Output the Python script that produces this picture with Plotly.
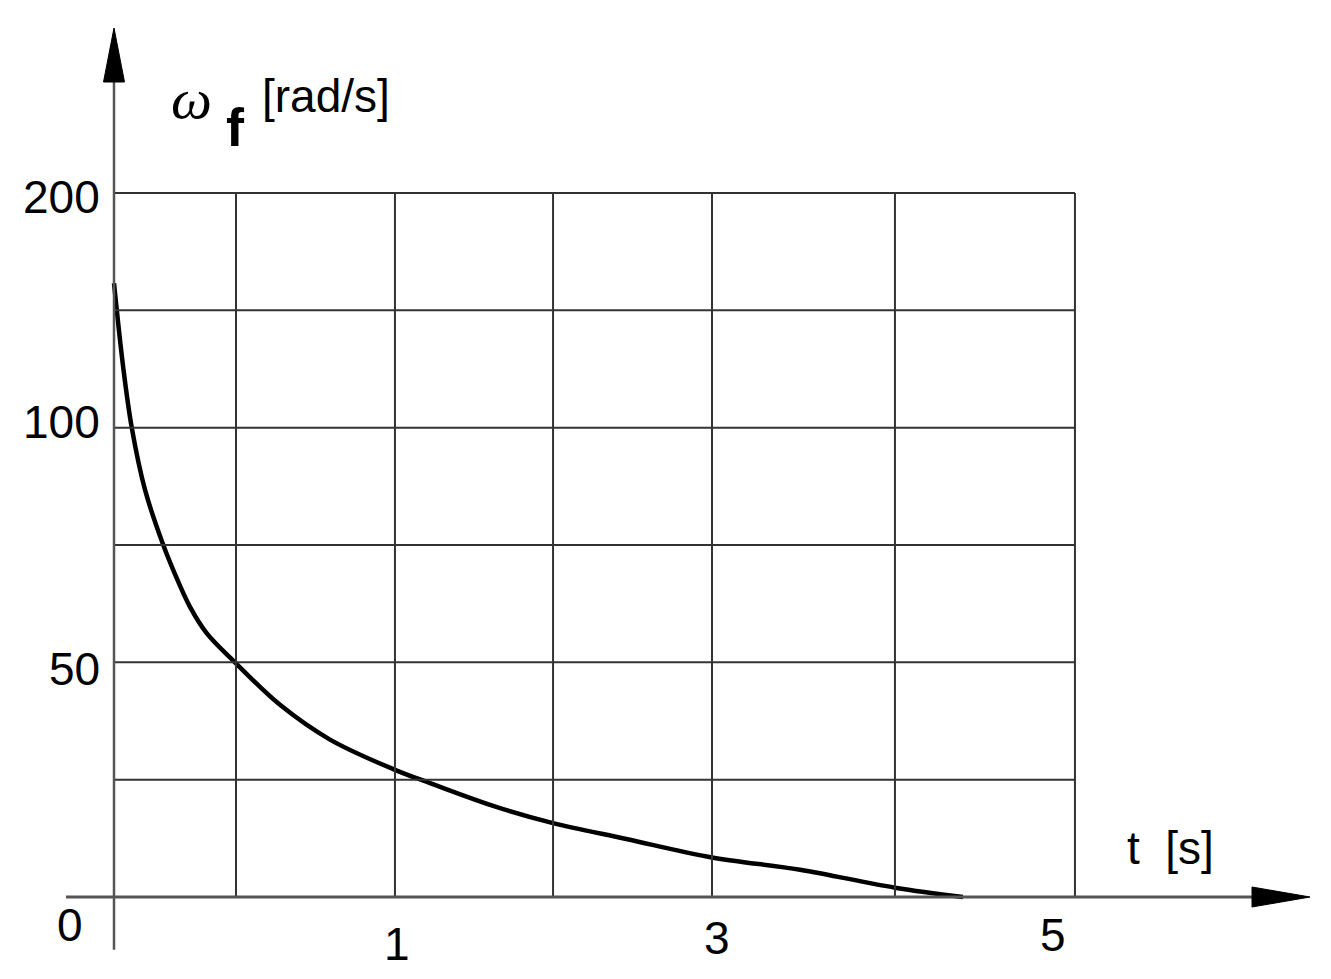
import math
import plotly.graph_objects as go

# ---- data ----
# x positions in grid units (1 unit ~ one interior grid column)
t_curve = [0.0, 0.058, 0.111, 0.194, 0.308, 0.381, 0.475, 0.579,
           0.756, 1.0375, 1.35, 1.756, 1.975, 2.394, 2.744, 3.194, 3.7375, 4.2875,
           4.881, 5.306]
w_curve = [153.2, 119.3, 100.0, 83.2, 70.7, 64.9, 58.9, 54.5,
           50.0, 44.1, 39.8, 36.4, 35.0, 32.6, 31.1, 29.7, 28.1, 27.1,
           25.7, 25.0]

x_grid = [0.0, 0.7625, 1.756, 2.744, 3.7375, 4.881, 6.006]
y_grid = [200, 141.42, 100, 70.71, 50, 35.36, 25]

y_tick_vals = [200, 100, 50]
y_tick_text = ["200", "100", "50"]
x_tick_pos = [1.756, 3.7375, 6.006]
x_tick_text = ["1", "3", "5"]

# axis extents (grid units / data values)
x_axis_left, x_axis_tip = -0.30, 7.475
y_axis_bottom, y_axis_tip = 21.4, 325.6
base_y = 25

FONT = "Liberation Sans, Arial, sans-serif"
GRID = "#333333"
AXIS = "#555555"

fig = go.Figure()
fig.add_trace(go.Scatter(x=t_curve, y=w_curve, mode="lines",
                         line=dict(color="black", width=4.5, shape="spline", smoothing=1.0),
                         hoverinfo="skip", showlegend=False))

shapes = []
for xv in x_grid[1:]:
    shapes.append(dict(type="line", xref="x", yref="y", x0=xv, x1=xv,
                       y0=base_y, y1=max(y_grid), line=dict(color=GRID, width=2)))
for yv in y_grid[:-1]:
    shapes.append(dict(type="line", xref="x", yref="y", x0=0, x1=x_grid[-1],
                       y0=yv, y1=yv, line=dict(color=GRID, width=2)))
# axes
shapes.append(dict(type="line", xref="x", yref="y", x0=0, x1=0, y0=y_axis_bottom,
                   y1=y_axis_tip * 0.9, line=dict(color=AXIS, width=2.5)))
shapes.append(dict(type="line", xref="x", yref="y", x0=x_axis_left, x1=x_axis_tip - 0.2,
                   y0=base_y, y1=base_y, line=dict(color=AXIS, width=3)))
# arrow heads
shapes.append(dict(type="path", xref="x", yref="y", xsizemode="pixel", ysizemode="pixel",
                   xanchor=0, yanchor=y_axis_tip,
                   path="M0,0 L-10.5,-54 L10.5,-54 Z",
                   fillcolor="black", line=dict(color="black", width=1)))
shapes.append(dict(type="path", xref="x", yref="y", xsizemode="pixel", ysizemode="pixel",
                   xanchor=x_axis_tip, yanchor=base_y,
                   path="M0,0 L-58,10 L-58,-10 Z",
                   fillcolor="black", line=dict(color="black", width=1)))

ann = []
ytick_shift = [-4, 6, -7]
for v, txt, sh in zip(y_tick_vals, y_tick_text, ytick_shift):
    ann.append(dict(x=0, y=math.log10(v), xref="x", yref="y", text=txt, showarrow=False,
                    xanchor="right", yanchor="middle", xshift=-12, yshift=sh,
                    font=dict(family=FONT, size=46, color="black")))
xtick_shift = [(2, -47), (5, -41), (-22, -38)]
for p, txt, (dx, dy) in zip(x_tick_pos, x_tick_text, xtick_shift):
    ann.append(dict(x=p, y=math.log10(base_y), xref="x", yref="y", text=txt, showarrow=False,
                    xanchor="center", yanchor="middle", xshift=dx, yshift=dy,
                    font=dict(family=FONT, size=46, color="black")))
ann.append(dict(x=0, y=math.log10(base_y), xref="x", yref="y", text="0", showarrow=False,
                xanchor="center", yanchor="middle", xshift=-44, yshift=-28,
                font=dict(family=FONT, size=46, color="black")))
# axis titles
ann.append(dict(x=0, y=math.log10(y_axis_tip), xref="x", yref="y", text="<i>ω</i>", showarrow=False,
                xanchor="left", yanchor="middle", xshift=55, yshift=-70,
                font=dict(family="Liberation Serif, serif", size=58, color="black")))
ann.append(dict(x=0, y=math.log10(y_axis_tip), xref="x", yref="y", text="<b>f</b>", showarrow=False,
                xanchor="left", yanchor="middle", xshift=110, yshift=-99,
                font=dict(family=FONT, size=54, color="black")))
ann.append(dict(x=0, y=math.log10(y_axis_tip), xref="x", yref="y", text="[rad/s]", showarrow=False,
                xanchor="left", yanchor="middle", xshift=146, yshift=-68,
                font=dict(family=FONT, size=46, color="black")))
ann.append(dict(x=x_grid[-1], y=math.log10(base_y), xref="x", yref="y", text="t  [s]", showarrow=False,
                xanchor="left", yanchor="middle", xshift=50, yshift=49,
                font=dict(family=FONT, size=46, color="black")))

# page body has an 8px margin, so the plot origin sits at page (8, 8)
W, H = 1323, 971
px_per_unit = 160.0
x0_px = 114.0 - 8
K = 234.67
Y100 = 427.67 - 8
x_range = [(0 - x0_px) / px_per_unit, (W - x0_px) / px_per_unit]
top_v = 100 * 2 ** (Y100 / K)
bot_v = 100 * 2 ** ((Y100 - H) / K)

fig.update_layout(
    width=W, height=H,
    margin=dict(l=0, r=0, t=0, b=0),
    paper_bgcolor="white", plot_bgcolor="white",
    xaxis=dict(range=x_range, visible=False, fixedrange=True),
    yaxis=dict(type="log", range=[math.log10(bot_v), math.log10(top_v)], visible=False, fixedrange=True),
    shapes=shapes, annotations=ann, showlegend=False,
)
fig.write_html("out.html")
